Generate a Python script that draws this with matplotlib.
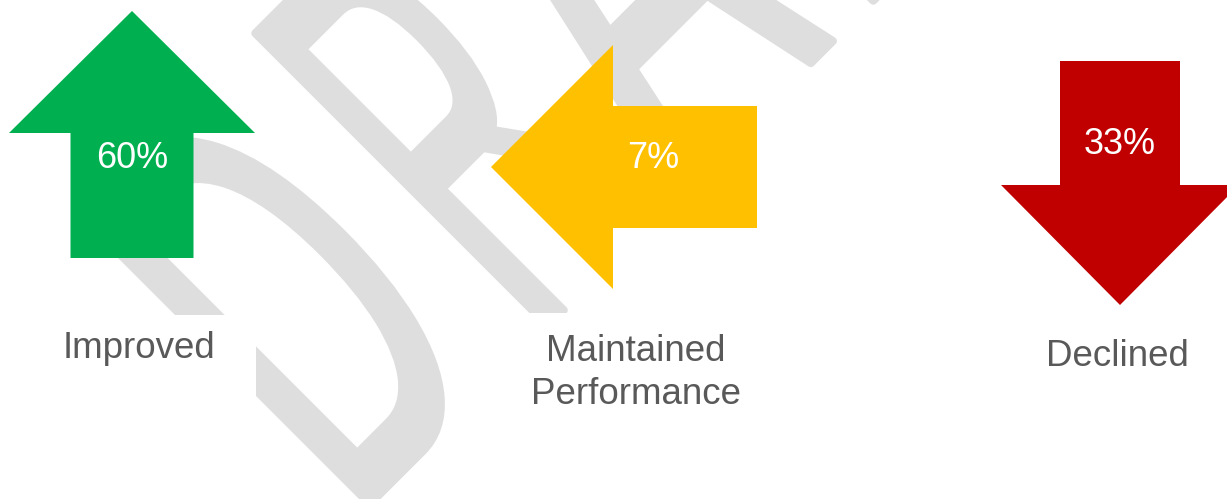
import numpy as np
import matplotlib
matplotlib.use("Agg")
import matplotlib.pyplot as plt
from matplotlib.textpath import TextPath
from matplotlib.font_manager import FontProperties
from matplotlib.patches import PathPatch, Polygon, Rectangle
from matplotlib.path import Path

# chart data
categories = ["Improved", "Maintained\nPerformance", "Declined"]
percents = [60, 7, 33]
directions = ["up", "left", "down"]
colors = ["#00B050", "#FFC000", "#C00000"]

# watermark letters
wm_letters = ["D", "R", "A", "F", "T"]

plt.rcParams["font.family"] = ["Liberation Sans", "DejaVu Sans"]

fig = plt.figure(figsize=(12.27, 4.99), dpi=100)
ax = fig.add_axes([0, 0, 1, 1])
ax.set_xlim(0, 1227)
ax.set_ylim(499, 0)
ax.axis("off")

# --- DRAFT watermark, rotated 45 degrees, tall and narrow ---
fp = FontProperties(family="Liberation Sans")
cap_em = TextPath((0, 0), "H", size=1, prop=fp).get_extents().y1
wm_color = "#dedede"
pad = 4          # half of stroke width in px
cap = 422 - 2 * pad
c = np.sqrt(0.5)
ox, oy = 437, 437   # where the baseline starts (u=0)
u_left = [-99, 153, 338, 613, 800]
u_width = [180, 150, 226, 160, 200]
leg_push = [0, 85, 0, 0, 0]   # the R's leg reaches further than the font's
for letter, u0, w, push in zip(wm_letters, u_left, u_width, leg_push):
    tp = TextPath((0, 0), letter, size=1, prop=fp)
    ext = tp.get_extents()
    gx, gy = tp.vertices[:, 0], tp.vertices[:, 1]
    sx = (w - 2 * pad) / ext.width
    sy = cap / cap_em
    u = u0 + pad + (gx - ext.x0) * sx
    if push:
        low = np.clip((0.31 - gy) / 0.31, 0, 1)
        right = np.clip((gx - 0.25) / 0.15, 0, 1)
        u = u + push * low * right
    h = gy * sy
    x = ox + c * (u - h)
    y = oy - c * (u + h)
    p = Path(np.column_stack([x, y]), tp.codes)
    ax.add_patch(PathPatch(p, fc=wm_color, ec=wm_color, lw=2 * pad * 0.72,
                           joinstyle="round", capstyle="round", zorder=1))

# white boxes behind the labels (they hide the watermark)
label_boxes = [(20, 315, 236, 95), (515, 313, 242, 110), (1000, 320, 220, 70)]
for bx, by, bw, bh in label_boxes:
    ax.add_patch(Rectangle((bx, by), bw, bh, fc="white", ec="none", zorder=2))


def arrow_shape(direction, cx, cy, length, head_len, head_w, shaft_w):
    # arrow pointing along direction, centred on (cx, cy) across the shaft
    half = length / 2
    pts = [(-half, -shaft_w / 2), (half - head_len, -shaft_w / 2),
           (half - head_len, -head_w / 2), (half, 0),
           (half - head_len, head_w / 2), (half - head_len, shaft_w / 2),
           (-half, shaft_w / 2)]
    pts = np.array(pts)
    if direction == "up":
        pts = np.column_stack([pts[:, 1], -pts[:, 0]])
    elif direction == "down":
        pts = np.column_stack([pts[:, 1], pts[:, 0]])
    elif direction == "left":
        pts = np.column_stack([-pts[:, 0], pts[:, 1]])
    return pts + [cx, cy]


# geometry of each arrow: centre, total length, head length, head width, shaft width
arrow_geo = [
    (132, 134.5, 247, 122, 246, 123),
    (624, 167, 266, 122, 244, 122),
    (1120, 183, 244, 120, 238, 120),
]
pct_pos = [(132, 158), (653, 158), (1120, 145)]
label_pos = [(139, 349), (636, 373), (1117, 356)]

for i in range(len(categories)):
    cx, cy, L, hl, hw, sw = arrow_geo[i]
    pts = arrow_shape(directions[i], cx, cy, L, hl, hw, sw)
    ax.add_patch(Polygon(pts, closed=True, fc=colors[i], ec="none", zorder=3))
    ax.text(pct_pos[i][0], pct_pos[i][1], f"{percents[i]}%", color="white",
            fontsize=26, ha="center", va="center", zorder=4)
    ax.text(label_pos[i][0], label_pos[i][1], categories[i], color="#595959",
            fontsize=26.5, ha="center", va="center", linespacing=1.3, zorder=4)

fig.savefig("out.png", dpi=100)
